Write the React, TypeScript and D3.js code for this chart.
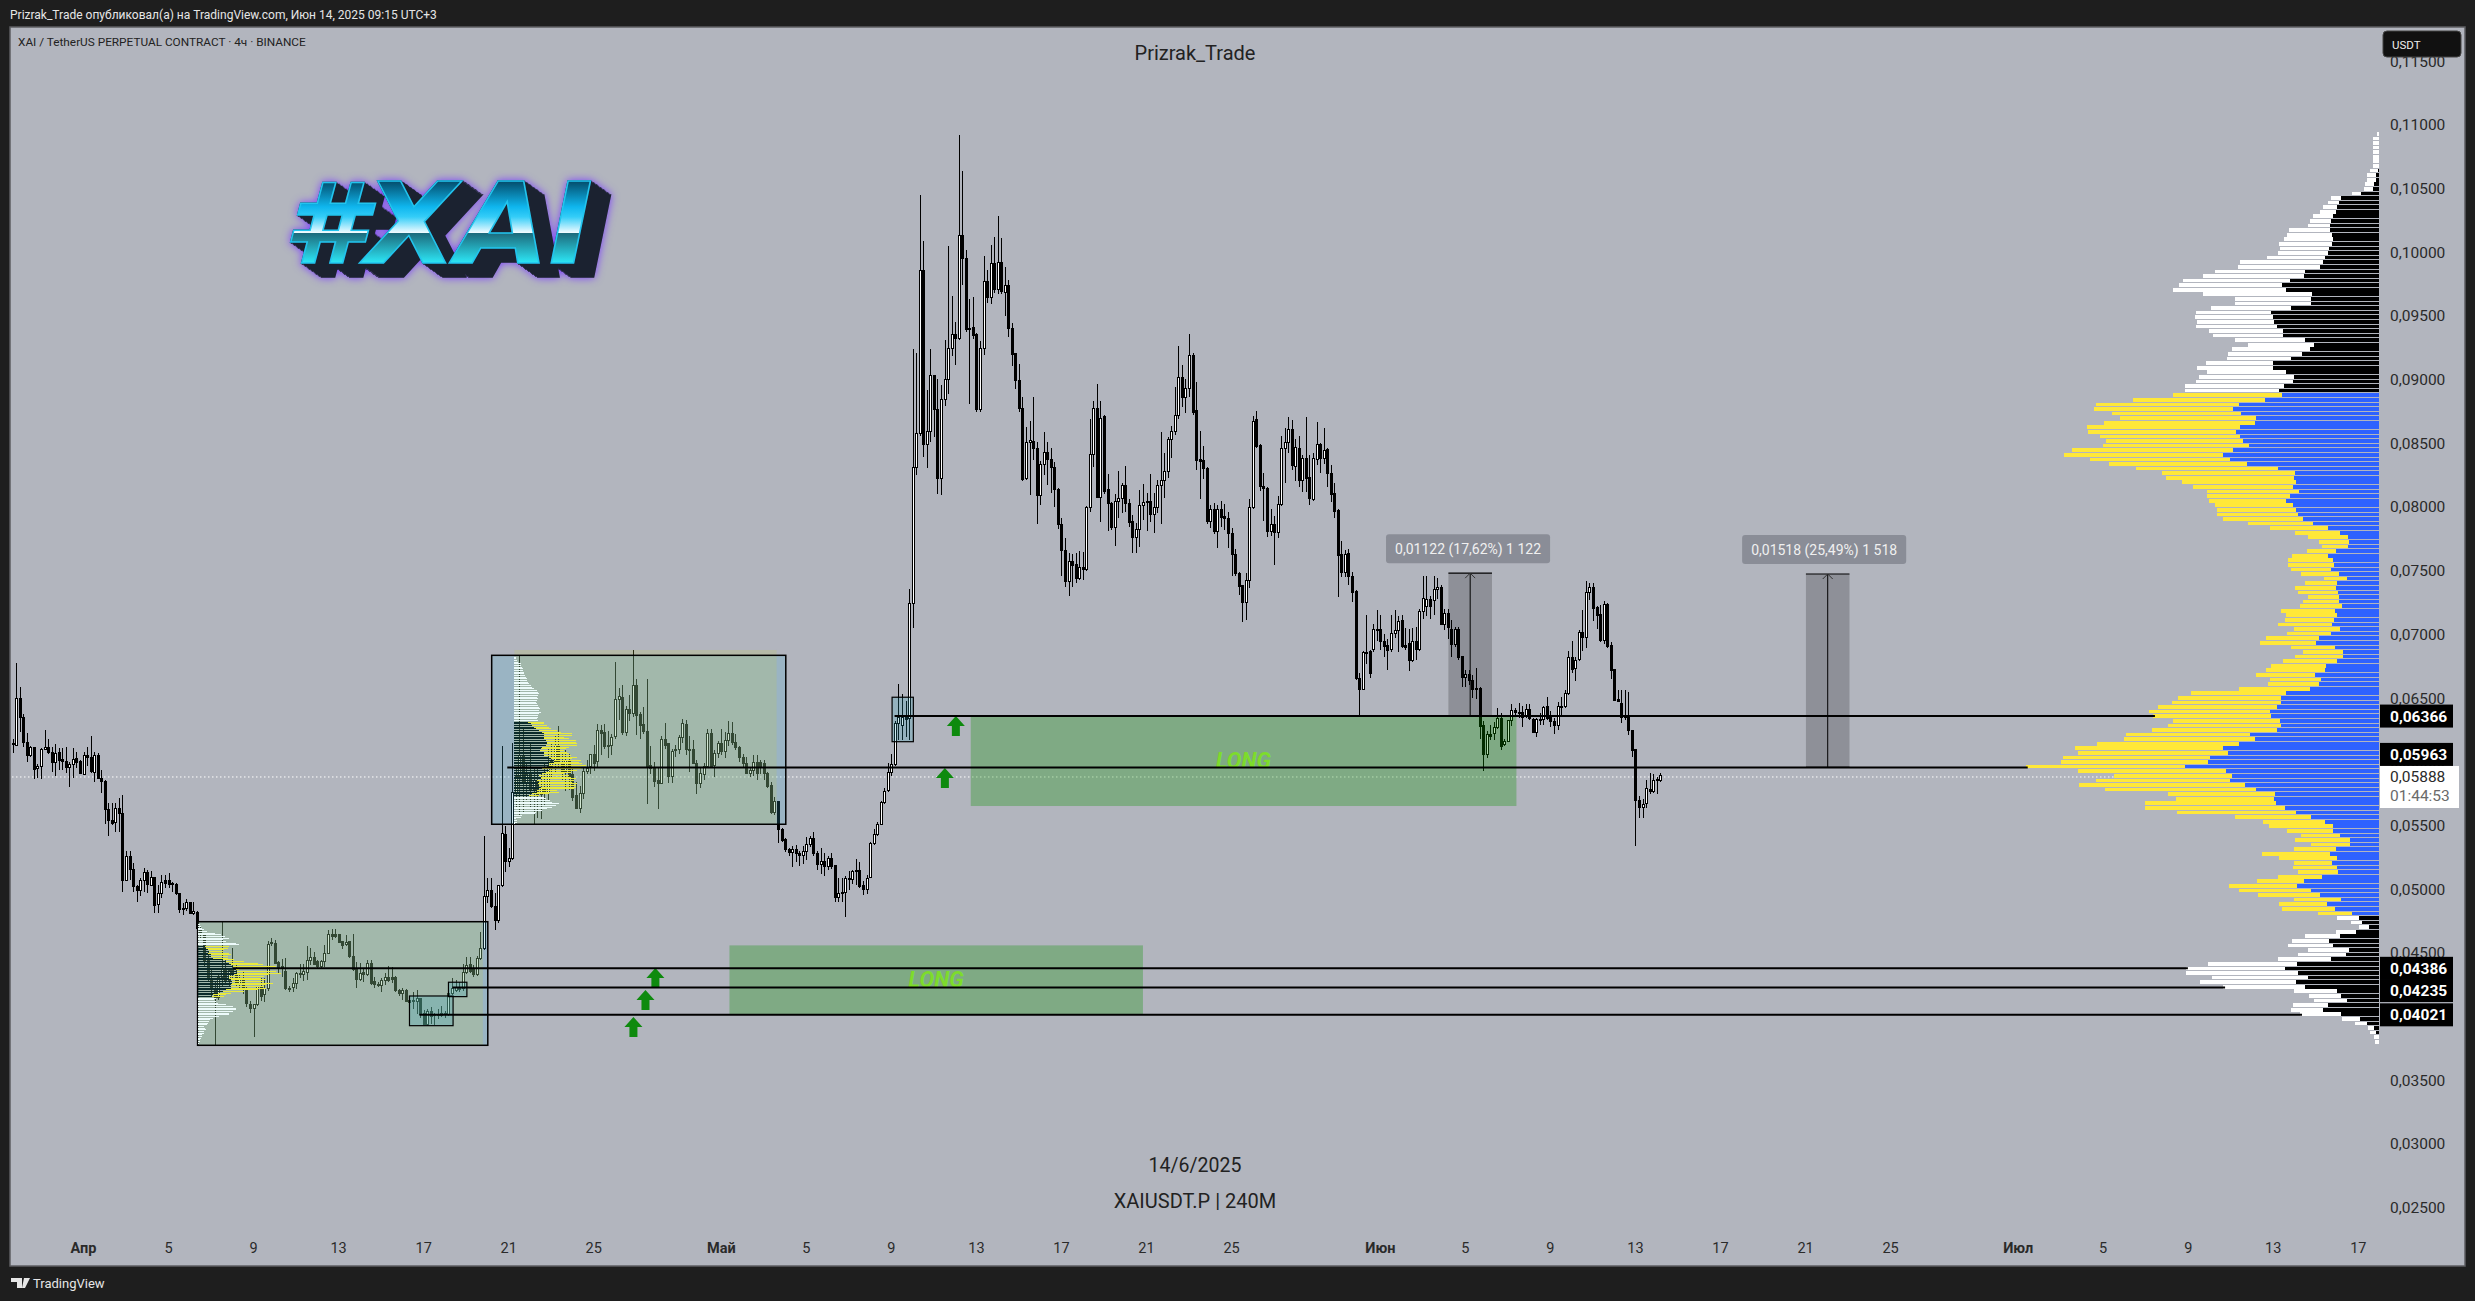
import React, { useRef, useEffect } from 'react';
import * as d3 from 'd3';

// candles are [open, high, low, close] in 1e-5 USDT, 4h bars, first bar Mar 28 16:00 UTC
const marchAprilCandles: number[][] = [
  [6135,6178,6071,6140],[6131,6772,6123,6497],[6497,6583,6236,6345],[6348,6374,6118,6152],[6152,6222,6000,6047],
  [6052,6123,6039,6113],[6113,6118,5862,5940],[5945,5982,5869,5966],[5961,6105,5862,6097],[6097,6249,6092,6113],
  [6113,6175,6060,6071],[6071,6113,5922,5992],[5995,6139,5890,6066],[6073,6105,5935,6013],[6018,6105,5935,6000],
  [6000,6113,5909,5953],[5955,6000,5804,5977],[5977,6105,5869,6018],[6026,6079,5948,5992],[6000,6013,5903,5909],
  [5903,6079,5895,6045],[6047,6118,5966,6031],[6034,6202,5914,5922],[5919,6079,5843,6047],[6052,6065,5862,5869],
  [5869,5935,5757,5843],[5848,5856,5511,5621],[5626,5673,5417,5537],[5542,5678,5500,5516],[5521,5678,5451,5634],
  [5634,5712,5451,5595],[5595,5739,4980,5071],[5071,5302,5071,5255],[5255,5302,5071,5150],[5155,5202,4980,5019],
  [5024,5032,4901,4988],[4988,5084,4946,5066],[5066,5163,4980,5132],[5132,5150,4967,5037],[5032,5145,5024,5092],
  [5092,5097,4815,4875],[4883,5032,4815,4967],[4967,5110,4928,5053],[5066,5110,5006,5045],[5066,5124,5006,5040],
  [5045,5053,4980,5040],[5037,5045,4954,4962],[4962,4967,4810,4841],[4850,4888,4797,4845],[4850,4920,4831,4896],
  [4896,4901,4805,4805],[4805,4899,4797,4823],[4820,4831,4684,4692],[4690,4700,4620,4640],[4640,4650,4400,4440],
  [4440,4510,4270,4300],[4300,4380,4150,4210],[4210,4280,3777,4150],[4150,4340,4130,4310],[4310,4745,4230,4380],
  [4380,4450,4250,4280],[4280,4380,4240,4360],[4360,4535,4290,4330],[4330,4420,4230,4250],[4250,4340,4210,4300],
  [4300,4360,4180,4230],[4221,4235,4075,4105],[4098,4120,4030,4060],[4060,4100,3842,4098],[4095,4240,4085,4235],
  [4235,4300,4125,4155],[4169,4300,4110,4221],[4221,4590,4200,4567],[4580,4615,4550,4570],[4575,4600,4410,4418],
  [4423,4435,4340,4384],[4390,4455,4310,4378],[4357,4457,4205,4216],[4222,4240,4193,4212],[4227,4300,4190,4261],
  [4261,4350,4215,4339],[4339,4412,4300,4339],[4331,4412,4280,4357],[4347,4552,4290,4436],[4436,4535,4405,4462],
  [4465,4510,4405,4412],[4428,4440,4375,4389],[4392,4445,4380,4431],[4431,4560,4390,4496],[4496,4680,4490,4645],
  [4645,4685,4600,4627],[4640,4685,4615,4630],[4640,4650,4575,4580],[4585,4590,4530,4561],[4564,4640,4555,4580],
  [4588,4595,4460,4470],[4470,4650,4360,4370],[4370,4425,4225,4287],[4292,4420,4280,4339],[4344,4380,4270,4326],
  [4326,4445,4320,4418],[4418,4445,4250,4261],[4274,4310,4225,4248],[4253,4270,4230,4245],[4243,4305,4195,4282],
  [4282,4340,4250,4308],[4308,4395,4270,4282],[4308,4390,4265,4292],[4308,4320,4195,4203],[4208,4215,4160,4182],
  [4182,4225,4130,4208],[4208,4215,4110,4117],[4122,4125,4050,4112],[4125,4190,4060,4122],[4119,4205,4020,4138],
  [4138,4143,3985,4012],[4025,4050,3934,3934],[3934,4060,3925,4040],[4040,4075,3945,4000],[4012,4025,3930,4010],
  [4010,4060,3980,4012],[4010,4085,4000,4025],[4025,4045,3990,4018],[4012,4215,4005,4182],[4182,4300,4170,4221],
  [4208,4290,4195,4229],[4229,4270,4195,4213],[4221,4410,4200,4344],[4344,4470,4330,4404],[4412,4470,4340,4352],
  [4378,4405,4310,4326],[4331,4475,4320,4457],[4457,4660,4440,4535],[4535,5417,4520,4941],[4941,5085,4890,4988],
  [4988,5085,4850,4862],[4867,4970,4680,4752],[4752,5032,4730,5027],[5027,6120,5015,5438],[5430,5495,5135,5215],
  [5215,5320,5170,5242],[5242,6150,5230,5757],[5757,5950,5640,5880],[5880,6838,5570,6050],[6050,6260,5600,5830],
  [5830,6000,5690,5900],[5900,6150,5640,5780],[5780,5960,5500,5850],[5850,5950,5560,5740],[5740,5900,5550,5800],
  [5800,6000,5650,5760],[5760,6100,5700,5960],[5960,6150,5870,6000],[6000,6200,5900,6130],[6130,6280,5950,5990],
  [5990,6060,5850,5920],[5920,6090,5770,6010],[6010,6060,5780,5880],[5896,5960,5690,5720],[5731,5840,5640,5634],
  [5634,5810,5600,5747],[5747,5960,5710,5922],[5922,6010,5900,5948],[5961,6060,5900,6053],[6053,6130,5930,5988],
  [6000,6296,5960,6241],[6241,6290,6050,6223],[6228,6296,6100,6118],[6130,6240,6030,6125],[6126,6215,6050,6192],
  [6197,6780,6175,6485],[6485,6580,6330,6510],
];

const mayCandles: number[][] = [
  [6506,6600,6210,6228],[6228,6440,6200,6406],[6406,6520,6320,6380],[6380,6877,6350,6602],[6602,6650,6210,6362],
  [6367,6390,6180,6288],[6293,6430,6220,6236],[6236,6650,5665,5961],[5967,6125,5900,5950],[5950,6000,5800,5844],
  [5849,5950,5630,5825],[5830,6200,5825,6176],[6176,6300,6100,6131],[6139,6150,5830,5883],[5883,6100,5830,6079],
  [6098,6130,6040,6085],[6098,6210,6060,6192],[6192,6335,6150,6301],[6294,6325,6050,6092],[6097,6200,5920,6092],
  [6097,6170,5980,5982],[5988,6010,5750,5830],[5830,5960,5790,5909],[5896,5990,5860,5961],[5961,6260,5955,6223],
  [6223,6260,5955,5961],[5967,6090,5880,6066],[6066,6160,6030,6145],[6145,6260,6050,6079],[6079,6230,6030,6166],
  [6166,6320,6120,6223],[6223,6310,6130,6150],[6150,6220,6090,6113],[6113,6125,6000,6034],[6034,6060,5950,5982],
  [5988,6040,5900,5909],[5904,5950,5880,5930],[5930,6050,5890,5993],[5993,6050,5860,5904],[5990,6010,5900,5965],
  [5982,6010,5860,5904],[5909,5920,5790,5805],[5810,5840,5590,5600],[5600,5720,5585,5687],[5687,5690,5360,5470],
  [5470,5480,5370,5381],[5386,5400,5290,5313],[5313,5320,5260,5290],[5290,5340,5170,5313],[5313,5350,5210,5281],
  [5281,5300,5180,5260],[5260,5340,5200,5294],[5294,5410,5230,5352],[5352,5420,5330,5399],[5399,5450,5260,5281],
  [5281,5300,5150,5190],[5190,5320,5120,5216],[5216,5280,5100,5177],[5177,5260,5150,5242],[5242,5280,5160,5177],
  [5182,5190,4900,4933],[4933,5090,4900,4967],[4975,5090,4900,4967],[4972,5100,4778,5085],[5085,5140,4990,5080],
  [5072,5150,5040,5137],[5145,5235,5030,5140],[5145,5210,5010,5020],[5025,5060,4950,5000],[5000,5110,4960,5085],
  [5090,5370,5085,5360],[5360,5470,5350,5425],[5430,5530,5420,5504],[5504,5690,5500,5679],[5679,5790,5670,5770],
  [5775,5990,5760,5914],[5914,6060,5890,5975],[5980,6320,5970,6296],[6296,6608,6170,6345],[6288,6530,6170,6349],
  [6349,6480,6190,6335],[6340,7356,6170,7244],[7244,9237,7053,8311],[8311,9206,8251,8573],[8573,10448,8560,9852],
  [9852,10087,8395,8486],[8486,8918,8309,8591],[8591,9237,8513,9028],[9028,9035,8552,8766],[8766,9002,8102,8225],
  [8225,8957,8094,8840],[8840,9310,8790,9002],[9000,10048,8887,9245],[9240,9656,9185,9355],[9355,9454,9114,9324],
  [9324,10919,9310,10127],[10127,10637,9742,9951],[9951,10017,9375,9389],[9402,9632,8808,9392],[9410,9650,9320,9342],
  [9350,9362,8745,8761],[8761,9303,8745,9245],[9245,9970,9193,9773],[9773,9860,9603,9645],[9645,10056,9590,9912],
  [9912,10121,9680,9703],[9703,10284,9672,9917],[9917,10114,9669,9690],[9682,9886,9499,9737],[9737,9781,9337,9397],
  [9402,9441,9106,9193],[9201,9206,8926,8991],[8991,9122,8748,8769],[8769,8866,8200,8217],[8225,8625,8215,8507],
  [8505,8675,8094,8520],[8513,8866,8369,8460],[8460,8510,7866,8086],[8086,8363,8015,8329],[8329,8586,8251,8429],
  [8429,8513,8172,8374],[8374,8460,8112,8309],[8311,8356,8002,8138],[8138,8150,7825,7864],[7864,7911,7458,7655],
  [7655,7754,7370,7414],[7414,7636,7301,7571],[7571,7628,7375,7537],[7545,7636,7401,7440],[7440,7654,7430,7524],
  [7524,7649,7430,7505],[7505,8010,7495,7997],[7997,8690,7960,8413],[8413,8832,8316,8774],[8774,8965,8066,8073],
  [8073,8832,7885,8696],[8709,8725,8105,8120],[8133,8259,7814,8029],[8029,8038,7820,7838],[7838,8102,7696,8042],
  [8042,8282,7916,8068],[8068,8190,7950,8165],[8165,8322,7963,8029],[8029,8060,7840,7877],[7882,7937,7641,7759],
  [7759,7870,7641,7825],[7825,8133,7689,8010],[8010,8180,7898,8034],[8042,8112,7814,8037],[8042,8259,7880,7942],
  [7937,8112,7798,7995],[7995,8212,7950,8167],[8167,8591,7864,8207],[8207,8421,8068,8277],[8277,8552,8230,8531],
  [8531,8636,8382,8591],[8591,8944,8565,8714],[8714,9263,8690,9017],[9017,9114,8787,8858],[8858,9002,8740,8931],
  [8931,9355,8866,9185],[9185,9206,8720,8740],[8753,8983,8290,8363],[8374,8599,8060,8356],[8363,8479,8217,8303],
  [8303,8315,7865,7885],[7885,8016,7832,7981],[7981,8029,7785,7806],[7806,8016,7675,7981],[7981,8047,7845,7916],
];

const juneCandles: number[][] = [
  [7924,8023,7819,7911],[7911,7963,7675,7793],[7793,7832,7458,7628],[7628,7668,7455,7474],[7479,7490,7309,7375],
  [7380,7390,7100,7252],[7252,7479,7113,7422],[7422,8060,7362,7997],[7997,8714,7981,8670],[8683,8753,8460,8473],
  [8479,8490,8128,8159],[8159,8264,7890,8146],[8146,8160,7767,7806],[7806,7980,7770,7864],[7859,7929,7545,7798],
  [7798,8086,7759,8021],[8021,8555,8008,8460],[8460,8617,8191,8507],[8507,8704,8421,8604],[8604,8683,8290,8324],
  [8316,8531,8204,8468],[8460,8560,8159,8207],[8207,8408,8120,8382],[8382,8704,8115,8225],[8233,8408,8016,8068],
  [8055,8421,8045,8382],[8374,8670,8330,8492],[8492,8500,8264,8377],[8382,8617,8340,8442],[8447,8460,8159,8259],
  [8264,8329,8042,8094],[8102,8191,7911,7963],[7968,7980,7291,7618],[7623,7736,7453,7485],[7485,7660,7453,7628],
  [7631,7670,7388,7453],[7453,7487,7250,7327],[7335,7350,6640,6654],[6654,6700,6354,6568],[6568,6870,6560,6856],
  [6856,7150,6770,6860],[6864,6880,6660,6694],[6877,7081,6860,7034],[7040,7190,6950,7036],[7040,7150,6880,6942],
  [6942,7000,6820,6903],[6916,6960,6720,6872],[6877,7150,6860,7008],[7008,7190,6970,7029],[7029,7140,6860,7099],
  [7107,7155,6895,6903],[6910,7050,6880,6900],[6924,7040,6710,6798],[6798,7050,6780,6947],[6942,7060,6800,6877],
  [6877,7200,6870,7178],[7178,7460,7120,7282],[7216,7460,7140,7275],[7275,7300,7120,7216],[7269,7460,7150,7353],
  [7355,7440,7280,7370],[7368,7385,7070,7073],[7073,7200,7030,7160],[7160,7200,6960,7050],[7039,7110,6825,6919],
  [6919,7060,6900,7039],[7041,7060,6800,6817],[6824,6830,6590,6662],[6662,6720,6590,6688],[6688,6720,6600,6636],
  [6641,6680,6503,6563],[6576,6735,6490,6568],[6576,6590,6180,6275],[6288,6320,5928,6053],[6053,6240,6030,6210],
  [6216,6290,6170,6200],[6218,6310,6170,6270],[6270,6420,6260,6340],[6340,6380,6090,6123],[6136,6180,6120,6157],
  [6157,6330,6155,6322],[6322,6450,6280,6400],[6400,6420,6350,6390],[6390,6460,6340,6380],[6387,6440,6270,6348],
  [6354,6450,6340,6411],[6411,6450,6330,6340],[6333,6345,6225,6228],[6228,6345,6196,6333],[6333,6385,6290,6330],
  [6333,6440,6290,6427],[6432,6505,6330,6340],[6354,6400,6270,6314],[6314,6340,6215,6288],[6288,6465,6250,6432],
  [6437,6510,6350,6432],[6437,6560,6420,6537],[6537,6870,6520,6819],[6819,6950,6700,6725],[6733,6820,6630,6798],
  [6804,7030,6790,7015],[7015,7190,6870,6973],[6973,7415,6890,7329],[7329,7400,7270,7368],[7368,7400,7105,7204],
  [7212,7220,7040,7146],[7159,7230,6940,6955],[6955,7260,6925,7230],[7230,7245,6890,6908],[6916,6940,6650,6714],
  [6720,6725,6480,6484],[6490,6560,6470,6474],[6458,6565,6300,6348],[6354,6560,6330,6346],[6354,6545,6210,6244],
  [6244,6250,6040,6087],[6092,6100,5341,5694],[5694,5730,5560,5642],[5642,5710,5555,5665],[5670,5860,5640,5791],
  [5783,5910,5750,5765],[5765,5905,5755,5856],[5860,5880,5745,5853],[5853,5910,5840,5888],
];

// volume profile rows, top to bottom: [down volume, total volume]
const vpUpper: number[][] = [
  [0,6],[0,18],[0,18],[0,18],[0,18],[0,18],[0,18],[0,18],[2,27],[9,36],[9,36],[15,42],[18,45],[54,81],[114,144],
  [120,153],[126,168],[129,177],[138,198],[144,207],[147,213],[147,270],[141,276],[138,285],[141,300],[150,297],
  [153,303],[162,336],[168,417],[177,423],[222,492],[225,528],[267,588],[291,600],[279,618],[201,528],[204,432],
  [204,432],[264,504],[324,549],[318,552],[315,546],[306,549],[288,510],[288,498],[222,432],[195,393],[207,441],
  [231,453],[264,456],[318,519],[318,546],[279,516],[255,540],[258,549],[285,582],[300,582],
];
const vpValueArea: number[][] = [
  [291,618],[342,738],[420,849],[438,855],[414,801],[369,777],[372,825],[417,876],[429,873],[417,837],[408,819],
  [390,828],[438,921],[468,945],[447,867],[396,810],[303,729],[252,651],[255,639],[249,591],[258,558],[240,516],
  [267,516],[279,510],[258,492],[249,486],[243,486],[228,468],[198,393],[153,327],[117,252],[93,213],[90,180],
  [93,171],[129,216],[153,261],[138,273],[135,273],[144,264],[120,234],[96,165],[126,222],[129,252],[123,243],
  [120,213],[120,228],[111,237],[132,294],[126,279],[135,282],[141,303],[117,255],[144,276],[180,339],[189,357],
  [132,264],[108,228],[108,252],[126,288],[159,324],[162,339],[192,369],[174,327],[180,333],[207,420],[279,564],
  [294,603],[294,621],[306,663],[327,690],[324,678],[297,618],[294,633],[306,681],[387,759],[372,765],[420,846],
  [468,912],[453,903],[507,948],[513,954],[582,1059],[459,903],[441,795],[447,849],[402,900],[369,822],[312,633],
  [315,609],[309,702],[282,702],[249,606],[204,432],[162,348],[138,330],[138,276],[117,234],[87,252],[87,204],
  [129,255],[147,351],[126,300],[141,255],[126,258],[123,243],[171,303],[225,366],[246,450],[204,420],[177,363],
  [114,255],[156,300],[132,291],[81,183],
];
const vpLower: number[][] = [
  [60,126],[51,84],[30,60],[69,129],[117,222],[150,261],[138,273],[90,213],[99,243],[144,303],[246,513],[282,579],
  [243,579],[213,501],[249,537],[222,468],[126,255],[114,210],[96,195],[153,258],[168,264],[114,237],[57,111],
  [36,72],[15,33],[9,27],[0,15],[0,12],
];

const firstBoxProfile: number[][] = [
  [0,8],[0,10],[0,13],[0,18],[0,27],[0,52],[0,70],[0,82],[0,95],[0,75],[0,85],[0,115],[0,125],[22,95],[25,90],[30,80],
  [35,75],[32,95],[40,100],[40,90],[45,90],[75,110],[85,140],[95,180],[100,195],[105,235],[110,240],[115,125],[118,235],
  [118,250],[110,215],[95,200],[95,190],[100,205],[103,200],[103,225],[100,205],[100,200],[100,205],[85,180],[75,140],
  [60,100],[45,85],[42,80],[0,55],[0,50],[0,55],[0,60],[0,85],[0,105],[0,115],[0,115],[0,105],[0,95],[0,95],[0,65],
  [0,45],[0,38],[0,35],[0,30],[0,28],[0,20],[0,22],[0,25],[0,18],[0,20],[0,14],[0,12],[0,10],[0,8],[0,6],[0,4],
];
const secondBoxProfile: number[][] = [
  [0,6],[0,7],[0,9],[0,12],[0,20],[0,22],[0,25],[0,26],[0,28],[0,29],[0,30],[0,33],[0,35],[0,38],[0,40],[0,42],[0,45],
  [0,50],[0,55],[0,60],[0,68],[0,72],[0,74],[0,73],[0,68],[0,72],[0,68],[0,65],[0,70],[0,72],[0,75],[0,78],[0,76],[0,80],
  [0,74],[0,72],[0,72],[0,70],[0,72],[43,90],[50,90],[55,100],[60,105],[65,110],[75,130],[85,140],[90,175],[90,175],
  [90,150],[90,165],[95,185],[100,185],[100,190],[95,190],[85,165],[80,155],[78,150],[90,160],[90,165],[90,170],[105,190],
  [110,175],[120,200],[120,195],[105,205],[105,215],[105,220],[85,200],[105,190],[95,170],[85,150],[75,165],[80,170],
  [80,185],[70,180],[75,175],[72,190],[75,185],[80,185],[75,180],[70,130],[70,135],[55,105],[45,75],[0,90],[0,95],[0,108],
  [0,115],[0,135],[0,125],[0,115],[0,100],[0,85],[0,65],[0,62],[0,25],[0,20],[0,6],[0,9],[0,8],[0,4],
];

const priceTicks = [0.115,0.11,0.105,0.1,0.095,0.09,0.085,0.08,0.075,0.07,0.065,0.06,0.055,0.05,0.045,0.04,0.035,0.03,0.025];
const timeTicks: [string, number, number, boolean][] = [
  ['Апр',3,1,true],['5',3,5,false],['9',3,9,false],['13',3,13,false],['17',3,17,false],['21',3,21,false],['25',3,25,false],
  ['Май',4,1,true],['5',4,5,false],['9',4,9,false],['13',4,13,false],['17',4,17,false],['21',4,21,false],['25',4,25,false],
  ['Июн',5,1,true],['5',5,5,false],['9',5,9,false],['13',5,13,false],['17',5,17,false],['21',5,21,false],['25',5,25,false],
  ['Июл',6,1,true],['5',6,5,false],['9',6,9,false],['13',6,13,false],['17',6,17,false],
];

// level, first bar, last bar, label nudge
const levels: [number, number, number, number][] = [
  [0.06366,249.9,605.6,0],[0.05963,140.6,569.7,-13],[0.04386,63.2,614.9,0],[0.04235,125.1,625.4,3],[0.04021,115.8,647.1,0],
];
const longZones = [
  { from: 271.4, to: 425.4, top: 0.06366, bottom: 0.0566 },
  { from: 203.3, to: 320, top: 0.04566, bottom: 0.04021 },
];
const consolidationBoxes = [
  { from: 53.2, to: 135.1, top: 0.04744, bottom: 0.03774, tintTo: 133.7, tintTop: 0.04744 },
  { from: 136.2, to: 219.2, top: 0.06835, bottom: 0.05509, tintFrom: 142.6, tintTo: 216.6, tintTop: 0.06877 },
];
const smallBoxes = [
  { from: 113, to: 125.3, top: 0.04161, bottom: 0.03928 },
  { from: 124, to: 129.2, top: 0.04269, bottom: 0.04156 },
  { from: 249.2, to: 255.2, top: 0.06506, bottom: 0.06157 },
];
const measures = [
  { from: 406.2, to: 418.5, low: 0.06366, high: 0.07488, text: '0,01122 (17,62%) 1 122', labelFrom: 388.6, labelTo: 434.9 },
  { from: 507.1, to: 519.4, low: 0.05963, high: 0.07481, text: '0,01518 (25,49%) 1 518', labelFrom: 489.1, labelTo: 535.4 },
];
const arrows: [number, number][] = [[267.2,0.0628],[264.1,0.05872],[182.4,0.04302],[179.6,0.0413],[176.2,0.03918]];

const W = 2475, H = 1301;
const font = 'Roboto, "Noto Sans", sans-serif';

const App: React.FC = () => {
  const svgRef = useRef<SVGSVGElement | null>(null);

  useEffect(() => {
    const svg = d3.select(svgRef.current);
    svg.selectAll('*').remove();

    const candles = [...marchAprilCandles, ...mayCandles, ...juneCandles];
    const y = d3.scaleLinear().domain([0.11, 0.025]).range([124.7, 1207.6]);
    const t = d3.scaleUtc().domain([new Date(Date.UTC(2025, 3, 1)), new Date(Date.UTC(2025, 6, 17))]).range([83.5, 83.5 + 107 * 21.26]);
    const t0 = Date.UTC(2025, 2, 28, 16);
    const bx = (n: number) => t(new Date(t0 + (n - 1) * 4 * 3600 * 1000));
    const vol = d3.scaleLinear().domain([0, 1059]).range([0, 353]);
    const lineY = (p: number) => y(p) + 1;

    const defs = svg.append('defs');
    const grad = defs.append('linearGradient').attr('id', 'logoFill').attr('gradientUnits', 'userSpaceOnUse')
      .attr('x1', 0).attr('x2', 0).attr('y1', 182).attr('y2', 265);
    [[0, '#04506f'], [0.3, '#0fb6ee'], [0.42, '#34cdf8'], [0.61, '#f0fbff'], [0.615, '#1c6a7c'], [1, '#2ef0ff']].forEach(([o, c]) => {
      grad.append('stop').attr('offset', o as number).attr('stop-color', c as string);
    });
    // extrusion and glow as one filter so the logo stays a single text
    const fx = defs.append('filter').attr('id', 'logoFx').attr('x', '-15%').attr('y', '-20%').attr('width', '130%').attr('height', '150%')
      .attr('color-interpolation-filters', 'sRGB');
    const steps = d3.range(1, 15);
    steps.forEach(k => {
      fx.append('feOffset').attr('in', 'SourceAlpha').attr('dx', k * 1.4).attr('dy', k).attr('result', `o${k}`);
    });
    const mergeExt = fx.append('feMerge').attr('result', 'ext');
    mergeExt.append('feMergeNode').attr('in', 'SourceAlpha');
    steps.forEach(k => mergeExt.append('feMergeNode').attr('in', `o${k}`));
    fx.append('feFlood').attr('flood-color', '#1b2230').attr('result', 'dark');
    fx.append('feComposite').attr('in', 'dark').attr('in2', 'ext').attr('operator', 'in').attr('result', 'extDark');
    fx.append('feGaussianBlur').attr('in', 'ext').attr('stdDeviation', 4).attr('result', 'blur');
    fx.append('feFlood').attr('flood-color', '#7a3cff').attr('result', 'violet');
    fx.append('feComposite').attr('in', 'violet').attr('in2', 'blur').attr('operator', 'in').attr('result', 'glow');
    const mergeAll = fx.append('feMerge');
    ['glow', 'extDark', 'SourceGraphic'].forEach(n => mergeAll.append('feMergeNode').attr('in', n));

    // frame
    svg.append('rect').attr('width', W).attr('height', H).attr('fill', '#1e1e1e');
    svg.append('rect').attr('x', 10).attr('y', 27).attr('width', 2455).attr('height', 1239)
      .attr('fill', '#b2b5be').attr('stroke', '#5d5e62').attr('stroke-width', 1.5);

    // current price
    svg.append('line').attr('x1', 12).attr('x2', 2380).attr('y1', lineY(0.05888)).attr('y2', lineY(0.05888))
      .attr('stroke', '#fff').attr('stroke-width', 1).attr('stroke-dasharray', '1.5 2.5');

    // candles
    const cg = svg.append('g').attr('shape-rendering', 'crispEdges');
    const cx = (i: number) => Math.round(bx(i + 1));
    cg.selectAll('.wick').data(candles).join('line').attr('class', 'wick')
      .attr('x1', (_, i) => cx(i) + 0.5).attr('x2', (_, i) => cx(i) + 0.5)
      .attr('y1', d => y(d[1] / 1e5)).attr('y2', d => y(d[2] / 1e5)).attr('stroke', '#000').attr('stroke-width', 1);
    cg.selectAll('.body').data(candles).join('rect').attr('class', 'body')
      .attr('x', (_, i) => cx(i) - 0.5).attr('width', 2)
      .attr('y', d => y(Math.max(d[0], d[3]) / 1e5))
      .attr('height', d => Math.max(1, Math.abs(y(d[0] / 1e5) - y(d[3] / 1e5))))
      .attr('fill', d => (d[3] >= d[0] ? '#fff' : '#000')).attr('stroke', '#000').attr('stroke-width', 1);

    // boxes
    consolidationBoxes.forEach(b => {
      const tx = bx(b.tintFrom ?? b.from);
      svg.append('rect').attr('x', bx(b.from)).attr('y', y(b.top)).attr('width', bx(b.to) - bx(b.from)).attr('height', y(b.bottom) - y(b.top))
        .attr('fill', 'rgba(60,181,215,0.2)');
      svg.append('rect').attr('x', tx).attr('y', y(b.tintTop)).attr('width', bx(b.tintTo) - tx)
        .attr('height', y(b.bottom) - y(b.tintTop)).attr('fill', 'rgba(190,200,85,0.22)');
      svg.append('rect').attr('x', bx(b.from)).attr('y', y(b.top)).attr('width', bx(b.to) - bx(b.from)).attr('height', y(b.bottom) - y(b.top))
        .attr('fill', 'none').attr('stroke', '#000').attr('stroke-width', 1.5);
    });
    smallBoxes.forEach(b => {
      svg.append('rect').attr('x', bx(b.from)).attr('y', y(b.top)).attr('width', bx(b.to) - bx(b.from)).attr('height', y(b.bottom) - y(b.top))
        .attr('fill', 'rgba(40,170,190,0.22)').attr('stroke', '#000').attr('stroke-width', 1.2);
    });

    // profiles inside the boxes
    const miniProfile = (rows: number[][], left: number, top: number, bottom: number) => {
      const step = (top - bottom) / (rows.length - 1);
      const g = svg.append('g').attr('shape-rendering', 'crispEdges');
      rows.forEach((r, i) => {
        const py = Math.round(y(top - i * step));
        g.append('rect').attr('x', left + r[0] / 3).attr('y', py).attr('width', (r[1] - r[0]) / 3).attr('height', 1)
          .attr('fill', r[0] > 0 ? '#e9ea3c' : '#edfbfb');
        if (r[0] > 0) g.append('rect').attr('x', left).attr('y', py).attr('width', r[0] / 3).attr('height', 1).attr('fill', '#0a2a2a');
      });
    };
    miniProfile(firstBoxProfile, 197.7, 0.04724, 0.03795);
    miniProfile(secondBoxProfile, 514, 0.06825, 0.05517);

    // long zones
    longZones.forEach(z => {
      svg.append('rect').attr('x', bx(z.from)).attr('y', lineY(z.top)).attr('width', bx(z.to) - bx(z.from)).attr('height', y(z.bottom) - y(z.top))
        .attr('fill', 'rgba(10,147,0,0.3)');
      svg.append('text').attr('x', (bx(z.from) + bx(z.to)) / 2).attr('y', (lineY(z.top) + y(z.bottom)) / 2 + 7)
        .attr('text-anchor', 'middle').attr('font-family', font).attr('font-size', 22).attr('font-weight', 700).attr('font-style', 'italic')
        .attr('fill', '#7ddc2c').text('LONG');
    });

    // measure boxes
    measures.forEach(m => {
      const x1 = bx(m.from), x2 = bx(m.to), mid = (x1 + x2) / 2;
      svg.append('rect').attr('x', x1).attr('y', lineY(m.high)).attr('width', x2 - x1).attr('height', lineY(m.low) - lineY(m.high)).attr('fill', 'rgba(0,0,0,0.2)');
      svg.append('line').attr('x1', x1).attr('x2', x2).attr('y1', lineY(m.high)).attr('y2', lineY(m.high)).attr('stroke', '#000').attr('stroke-width', 1.2);
      svg.append('line').attr('x1', x1).attr('x2', x2).attr('y1', lineY(m.low)).attr('y2', lineY(m.low)).attr('stroke', '#000').attr('stroke-width', 1.2);
      svg.append('line').attr('x1', mid).attr('x2', mid).attr('y1', lineY(m.high)).attr('y2', lineY(m.low)).attr('stroke', '#000').attr('stroke-width', 1);
      svg.append('path').attr('d', `M${mid - 5},${lineY(m.high) + 5}L${mid},${lineY(m.high)}L${mid + 5},${lineY(m.high) + 5}`).attr('fill', 'none').attr('stroke', '#333').attr('stroke-width', 1);
      const lx = bx(m.labelFrom), lw = bx(m.labelTo) - lx, ly = lineY(m.high) - 39;
      svg.append('rect').attr('x', lx).attr('y', ly).attr('width', lw).attr('height', 29).attr('rx', 3).attr('fill', '#8a8d97');
      svg.append('text').attr('x', lx + lw / 2).attr('y', ly + 19.5).attr('text-anchor', 'middle').attr('font-family', font)
        .attr('font-size', 14).attr('fill', '#f0f0f0').text(m.text);
    });

    // arrows
    const arrowPath = 'M0,-10L9,0L4,0L4,10L-4,10L-4,0L-9,0Z';
    svg.selectAll('.arrow').data(arrows).join('path').attr('class', 'arrow').attr('d', arrowPath)
      .attr('transform', d => `translate(${bx(d[0])},${y(d[1])})`).attr('fill', '#0e8a0e');

    // right side volume profile
    const rows = [...vpUpper, ...vpValueArea, ...vpLower];
    const step = (0.10929 - 0.03802) / (rows.length - 1);
    const vpRight = 2379;
    const vp = svg.append('g').attr('shape-rendering', 'crispEdges');
    rows.forEach((r, i) => {
      const inValue = i >= vpUpper.length && i < vpUpper.length + vpValueArea.length;
      const py = y(0.10929 - i * step) - 1.8;
      vp.append('rect').attr('x', vpRight - vol(r[1])).attr('y', py).attr('width', vol(r[1]) - vol(r[0])).attr('height', 3.7)
        .attr('fill', inValue ? '#ffe838' : '#fff');
      vp.append('rect').attr('x', vpRight - vol(r[0])).attr('y', py).attr('width', vol(r[0])).attr('height', 3.7)
        .attr('fill', inValue ? '#2e62ff' : '#000');
    });

    // levels
    levels.forEach(l => {
      svg.append('line').attr('x1', bx(l[1])).attr('x2', bx(l[2])).attr('y1', lineY(l[0])).attr('y2', lineY(l[0]))
        .attr('stroke', '#000').attr('stroke-width', 2);
    });

    // price axis
    svg.selectAll('.ptick').data(priceTicks).join('text').attr('class', 'ptick')
      .attr('x', 2390).attr('y', d => y(d) + 5.5).attr('font-family', font).attr('font-size', 15.5).attr('fill', '#2a2a2a')
      .text(d => d3.format('.5f')(d).replace('.', ','));
    levels.forEach(l => {
      const cy = lineY(l[0]) + l[3];
      svg.append('rect').attr('x', 2380).attr('y', cy - 11.5).attr('width', 73).attr('height', 23).attr('fill', '#000');
      svg.append('text').attr('x', 2390).attr('y', cy + 5.5).attr('font-family', font).attr('font-size', 15.5).attr('font-weight', 700).attr('fill', '#fff')
        .text(d3.format('.5f')(l[0]).replace('.', ','));
    });
    svg.append('rect').attr('x', 2380).attr('y', 766).attr('width', 79).attr('height', 42).attr('fill', '#fff');
    svg.append('text').attr('x', 2390).attr('y', 782).attr('font-family', font).attr('font-size', 15.5).attr('fill', '#2a2a2a').text('0,05888');
    svg.append('text').attr('x', 2390).attr('y', 801).attr('font-family', font).attr('font-size', 15.5).attr('fill', '#6a6a6a').text('01:44:53');

    // unit button
    svg.append('rect').attr('x', 2383).attr('y', 31).attr('width', 78).attr('height', 26).attr('rx', 4).attr('fill', '#111').attr('stroke', '#444');
    svg.append('text').attr('x', 2392).attr('y', 49).attr('font-family', font).attr('font-size', 11.5).attr('fill', '#eee').text('USDT');

    // time axis
    svg.selectAll('.ttick').data(timeTicks).join('text').attr('class', 'ttick')
      .attr('x', d => t(new Date(Date.UTC(2025, d[1], d[2])))).attr('y', 1252.5).attr('text-anchor', 'middle')
      .attr('font-family', font).attr('font-size', 14.5).attr('font-weight', d => (d[3] ? 700 : 400)).attr('fill', '#2a2a2a').text(d => d[0]);

    // captions
    const caption = (txt: string, x: number, yy: number, size: number, fill: string, anchor = 'start') =>
      svg.append('text').attr('x', x).attr('y', yy).attr('font-family', font).attr('font-size', size).attr('fill', fill).attr('text-anchor', anchor).text(txt);
    caption('Prizrak_Trade опубликовал(а) на TradingView.com, Июн 14, 2025 09:15 UTC+3', 10, 19, 12, '#e6e6e6');
    caption('XAI / TetherUS PERPETUAL CONTRACT · 4ч · BINANCE', 18, 46, 11.8, '#222');
    caption('Prizrak_Trade', 1195, 60, 20, '#222', 'middle');
    caption('14/6/2025', 1195, 1172, 19.5, '#222', 'middle');
    caption('XAIUSDT.P | 240M', 1195, 1208, 20, '#222', 'middle');
    caption('TradingView', 33, 1288, 13, '#e6e6e6');
    svg.append('path').attr('d', 'M11,1278h11v10h-5v-6h-6zM24,1278h6l-5,10h-3z').attr('fill', '#e6e6e6');

    // #XAI logo
    svg.append('text').attr('x', 283).attr('y', 263)
      .attr('font-family', '"DejaVu Sans", sans-serif').attr('font-weight', 700).attr('font-style', 'italic').attr('font-size', 112)
      .attr('textLength', 310).attr('lengthAdjust', 'spacingAndGlyphs')
      .attr('fill', 'url(#logoFill)').attr('stroke', '#22c4ee').attr('stroke-width', 1.5)
      .attr('filter', 'url(#logoFx)').text('#XAI');
  }, []);

  return <svg ref={svgRef} width={W} height={H} style={{ position: 'fixed', left: 0, top: 0, display: 'block' }}></svg>;
};

export default App;
